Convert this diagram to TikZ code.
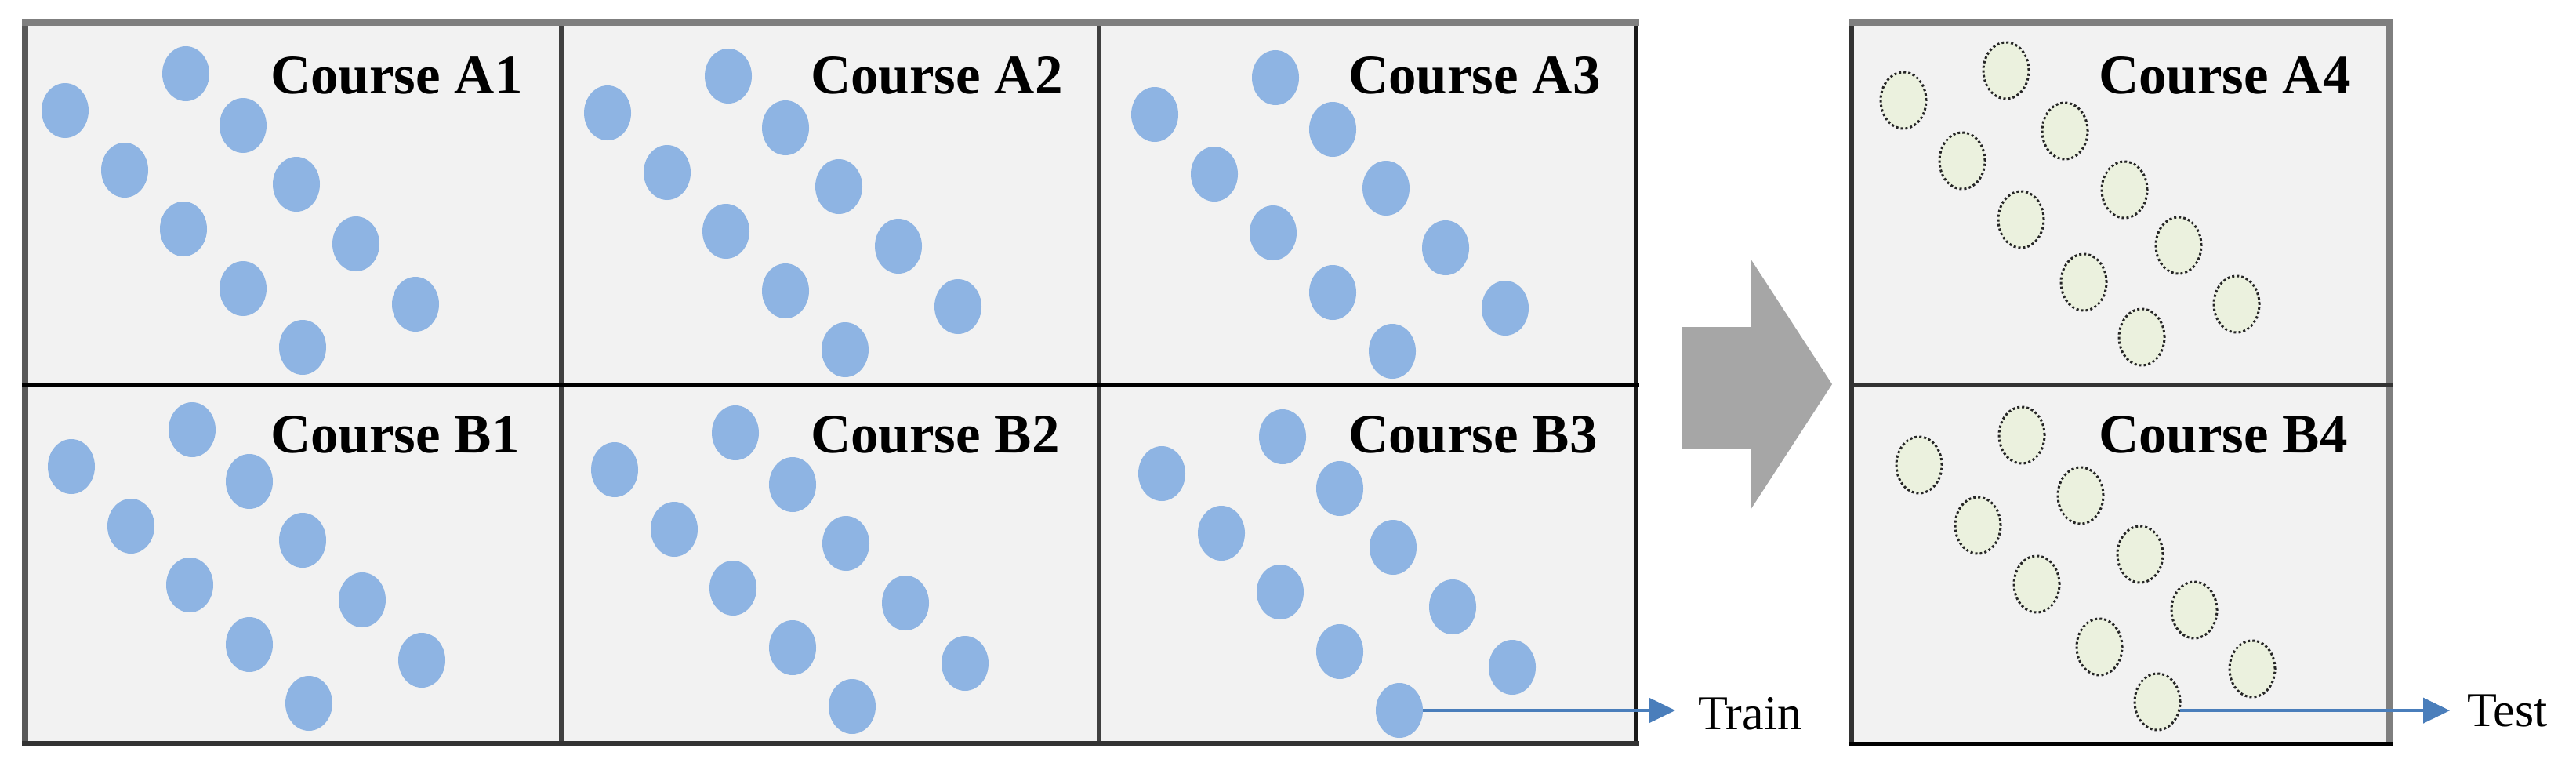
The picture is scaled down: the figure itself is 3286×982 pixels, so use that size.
\documentclass[tikz,border=0pt]{standalone}
\usepackage{fontspec}
\setmainfont{Liberation Serif}
\usetikzlibrary{arrows.meta,shapes.geometric}
\definecolor{cellfill}{HTML}{F2F2F2}
\definecolor{dotblue}{HTML}{8EB4E3}
\definecolor{dottest}{HTML}{EBF1DE}
\definecolor{arrowblue}{HTML}{4A7EBB}
\definecolor{biggray}{HTML}{A6A6A6}
\definecolor{topgray}{HTML}{7F7F7F}
\begin{document}
\begin{tikzpicture}[x=1pt,y=-1pt,
  bluedot/.style={ellipse, fill=dotblue, minimum width=60pt, minimum height=70pt, inner sep=0pt},
  testdot/.style={ellipse, fill=dottest, draw=black!85, line width=3pt, dash pattern=on 3pt off 3pt, minimum width=58pt, minimum height=72pt, inner sep=0pt},
  courselbl/.style={anchor=base west, inner sep=0pt, font=\fontsize{71pt}{80pt}\selectfont\bfseries},
  sidelbl/.style={anchor=base west, inner sep=0pt, font=\fontsize{62pt}{70pt}\selectfont},
  flow/.style={draw=arrowblue, line width=4pt, -{Triangle[length=34pt,width=32pt]}},
]
\useasboundingbox (0,0) rectangle (3286,982);
\fill[white] (0,0) rectangle (3286,982);

% cell backgrounds
\fill[cellfill] (32,29) rectangle (2087,948);
\fill[cellfill] (2362,29) rectangle (3048,948);

% training dots
\foreach \cname/\ox/\oy in {a1/32/30, a2/724/33, a3/1422/35, b1/40/484, b2/733/488, b3/1431/493}{
  \foreach \px/\py [count=\i] in {51/111, 205/64, 278/130, 127/187, 346/205, 202/262, 422/281, 278/338, 498/358, 354/413}{
    \node[bluedot] (\cname d\i) at (\ox+\px,\oy+\py) {};
  }
}
% test dots
\foreach \cname/\ox/\oy in {a4/2362/29, b4/2382/494}{
  \foreach \px/\py [count=\i] in {66/99, 197/61, 272/138, 141/176, 348/213, 216/251, 417/284, 296/331, 491/359, 370/401}{
    \node[testdot] (\cname d\i) at (\ox+\px,\oy+\py) {};
  }
}

% left grid lines
\draw[black!65, line width=8pt] (32,25) -- (32,952);
\draw[black!75, line width=6pt] (716,25) -- (716,952);
\draw[black!75, line width=6pt] (1402,25) -- (1402,952);
\draw[black!90, line width=5pt] (2087,25) -- (2087,952);
\draw[topgray, line width=9pt] (28,29) -- (2091,29);
\draw[black, line width=5pt] (28,490) -- (2091,490);
\draw[black!80, line width=6pt] (28,948) -- (2091,948);

% right panel lines
\draw[black!80, line width=6pt] (2362,25) -- (2362,952);
\draw[topgray, line width=8pt] (3048,25) -- (3048,952);
\draw[topgray, line width=9pt] (2358,29) -- (3052,29);
\draw[black!80, line width=5pt] (2358,490) -- (3052,490);
\draw[black, line width=5pt] (2358,948) -- (3052,948);

% big arrow
\fill[biggray] (2146,417) -- (2233,417) -- (2233,330) -- (2337,490) -- (2233,650) -- (2233,572) -- (2146,572) -- cycle;

% labels
\node[courselbl] (la1) at (345,119) {Course A1};
\node[courselbl] (la2) at (1034,119) {Course A2};
\node[courselbl] (la3) at (1720,119) {Course A3};
\node[courselbl] (lb1) at (345,577) {Course B1};
\node[courselbl] (lb2) at (1034,577) {Course B2};
\node[courselbl] (lb3) at (1720,577) {Course B3};
\node[courselbl] (la4) at (2677,119) {Course A4};
\node[courselbl] (lb4) at (2677,577) {Course B4};

\node[sidelbl] (train) at (2166,930) {Train};
\node[sidelbl] (test) at (3147,926) {Test};

% arrows
\coordinate (traintip) at (2137,906);
\coordinate (testtip) at (3125,906);
\draw[flow] (b3d10.east) -- (traintip);
\draw[flow] (b4d10.-21) -- (b4d10.-21 -| testtip);
\end{tikzpicture}
\end{document}
